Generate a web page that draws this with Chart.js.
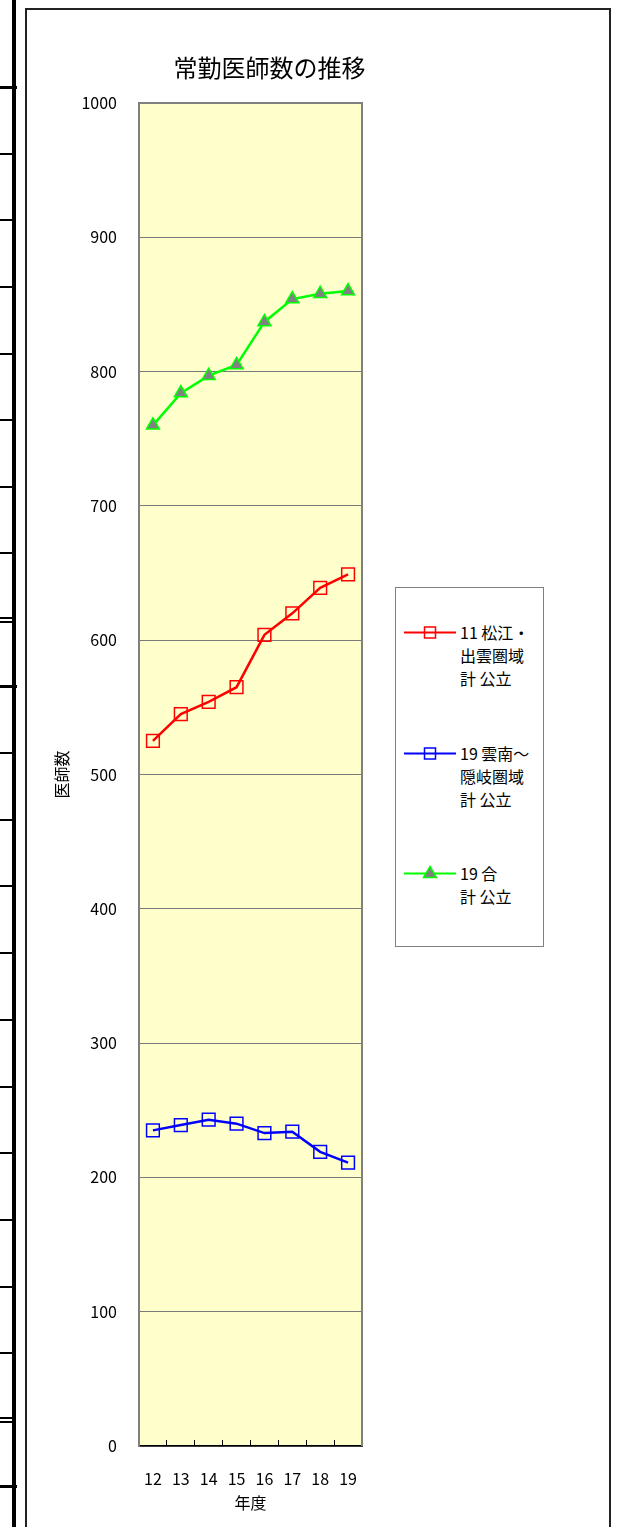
<!DOCTYPE html>
<html lang="ja">
<head>
<meta charset="utf-8">
<title>常勤医師数の推移</title>
<script src="https://cdn.jsdelivr.net/npm/chart.js@4.4.1/dist/chart.umd.min.js"></script>
<style>
    html, body { margin: 0; padding: 0; background: #fff; }
    body {
        width: 623px; height: 1527px; position: relative; overflow: hidden;
        font-family: "Noto Sans CJK JP", "Noto Sans", sans-serif; color: #000;
    }
    .rail { position: absolute; left: 12px; top: 0; width: 4px; height: 1527px; background: #000; }
    .rule { position: absolute; left: 0; width: 12px; height: 2px; background: #000; }
    .rule.thick { width: 17px; height: 3px; }
    .frame {
        position: absolute; left: 25px; top: 8px; width: 586px; height: 1540px;
        border: 2px solid #222; box-sizing: border-box;
    }
    #stromChart { position: absolute; left: 0; top: 0; }
    .legend {
        position: absolute; left: 395px; top: 587px; width: 149px; height: 360px;
        border: 1px solid #808080; box-sizing: border-box; background: #fff;
    }
    .entry { position: absolute; left: 0; width: 100%; }
    .entry svg { position: absolute; left: 8px; top: 3px; }
    .entry .txt { position: absolute; left: 64px; top: 0; font-size: 16px; line-height: 23px; white-space: nowrap; }
</style>
</head>
<body>
<div class="rail"></div>
<div id="rules"></div>
<div class="frame"></div>
<canvas id="stromChart" width="623" height="1527"></canvas>
<div class="legend" id="legend"></div>

<script>
/* Daten */
const years = ['12', '13', '14', '15', '16', '17', '18', '19'];
const matsueIzumo = [525, 545, 554, 565, 604, 620, 639, 649];
const unanOki = [235, 239, 243, 240, 233, 234, 219, 211];
const total = [760, 784, 797, 805, 837, 854, 858, 860];

const seriesLabels = [
    ['11 松江・', '出雲圏域', '計 公立'],
    ['19 雲南～', '隠岐圏域', '計 公立'],
    ['19 合', '計 公立']
];
const yTicks = [0, 100, 200, 300, 400, 500, 600, 700, 800, 900, 1000];

const FONT = '"Noto Sans CJK JP", "Noto Sans", sans-serif';

// linke Randlinien der Seite
const rules = document.getElementById('rules');
[87, 154, 220, 287, 354, 420, 487, 553, 618, 622, 686, 753, 820, 886, 953,
 1020, 1087, 1153, 1220, 1287, 1353, 1418, 1422, 1486].forEach(y => {
    const d = document.createElement('div');
    d.className = 'rule' + ([87, 686, 1486].includes(y) ? ' thick' : '');
    d.style.top = (y - 1) + 'px';
    rules.appendChild(d);
});

const plotFrame = {
    id: 'plotFrame',
    beforeDraw(chart) {
        const { ctx, chartArea: a } = chart;
        ctx.save();
        ctx.fillStyle = '#FFFFCC';
        ctx.fillRect(a.left, a.top, a.right - a.left, a.bottom - a.top);
        ctx.restore();
    },
    beforeDatasetsDraw(chart) {
        const { ctx, chartArea: a } = chart;
        ctx.save();
        ctx.strokeStyle = '#808080';
        ctx.lineWidth = 2;
        ctx.beginPath();
        ctx.moveTo(a.left, a.top);
        ctx.lineTo(a.right, a.top);
        ctx.lineTo(a.right, a.bottom);
        ctx.stroke();
        ctx.restore();
    },
    afterDraw(chart) {
        const { ctx, chartArea: a } = chart;
        ctx.save();
        ctx.fillStyle = '#000';
        ctx.font = '24px ' + FONT;
        ctx.textAlign = 'center';
        ctx.textBaseline = 'middle';
        ctx.fillText('常勤医師数の推移', (a.left + a.right) / 2 + 19, 68);
        ctx.restore();
    }
};

const ctx = document.getElementById('stromChart').getContext('2d');

const stromChart = new Chart(ctx, {
    type: 'line',
    data: {
        labels: years,
        datasets: [{
            label: seriesLabels[0].join(''),
            data: matsueIzumo,
            borderColor: '#FF0000',
            borderWidth: 2.5,
            pointStyle: 'rect',
            pointRadius: 9,
            pointBorderWidth: 1.5,
            pointBorderColor: '#FF0000',
            pointBackgroundColor: 'rgba(0,0,0,0)',
            tension: 0
        }, {
            label: seriesLabels[1].join(''),
            data: unanOki,
            borderColor: '#0000FF',
            borderWidth: 2.5,
            pointStyle: 'rect',
            pointRadius: 9,
            pointBorderWidth: 1.5,
            pointBorderColor: '#0000FF',
            pointBackgroundColor: 'rgba(0,0,0,0)',
            tension: 0
        }, {
            label: seriesLabels[2].join(''),
            data: total,
            borderColor: '#00FF00',
            borderWidth: 2.5,
            pointStyle: 'triangle',
            pointRadius: 7.5,
            pointBorderWidth: 1.5,
            pointBorderColor: '#00FF00',
            pointBackgroundColor: '#808080',
            tension: 0
        }]
    },
    options: {
        responsive: false,
        animation: false,
        devicePixelRatio: 1,
        layout: { padding: { left: 40, right: 261, top: 103, bottom: 0 } },
        plugins: {
            legend: { display: false },
            tooltip: { enabled: false },
            title: { display: false }
        },
        scales: {
            x: {
                type: 'category',
                offset: true,
                grid: {
                    display: true,
                    drawOnChartArea: false,
                    drawTicks: true,
                    tickLength: -6,
                    color: '#000',
                    offset: true
                },
                border: { color: '#000', width: 1.5 },
                ticks: { color: '#000', font: { family: FONT, size: 16 }, padding: 29, maxRotation: 0 },
                title: { display: true, text: '年度', color: '#000', font: { family: FONT, size: 16 }, padding: { top: 0, bottom: 14 } },
                afterFit: s => { s.height = 81; }
            },
            y: {
                min: 0,
                max: 1000,
                afterBuildTicks: s => { s.ticks = yTicks.map(v => ({ value: v })); },
                grid: { color: '#7a7a7a', lineWidth: 1, drawTicks: false },
                border: { color: '#808080', width: 2 },
                ticks: {
                    color: '#000',
                    font: { family: FONT, size: 16 },
                    padding: 22,
                    callback: v => String(v)
                },
                title: { display: true, text: '医師数', color: '#000', font: { family: FONT, size: 16 }, padding: { top: 12, bottom: 0 } },
                afterFit: s => { s.width = 99; }
            }
        }
    },
    plugins: [plotFrame]
});

/* Legende */
const legend = document.getElementById('legend');
const entryTops = [33, 154, 274];
stromChart.data.datasets.forEach((ds, i) => {
    const e = document.createElement('div');
    e.className = 'entry';
    e.style.top = entryTops[i] + 'px';
    let mark;
    if (ds.pointStyle === 'triangle') {
        mark = `<polygon points="26,1.5 32.5,12.5 19.5,12.5" fill="${ds.pointBackgroundColor}" stroke="${ds.pointBorderColor}" stroke-width="1.5"/>`;
    } else {
        mark = `<rect x="20.5" y="3" width="11" height="11" fill="none" stroke="${ds.pointBorderColor}" stroke-width="1.5"/>`;
    }
    e.innerHTML =
        `<svg width="54" height="17"><line x1="0" y1="8.5" x2="52" y2="8.5" stroke="${ds.borderColor}" stroke-width="2"/>${mark}</svg>` +
        `<div class="txt">${seriesLabels[i].join('<br>')}</div>`;
    legend.appendChild(e);
});
</script>
</body>
</html>
